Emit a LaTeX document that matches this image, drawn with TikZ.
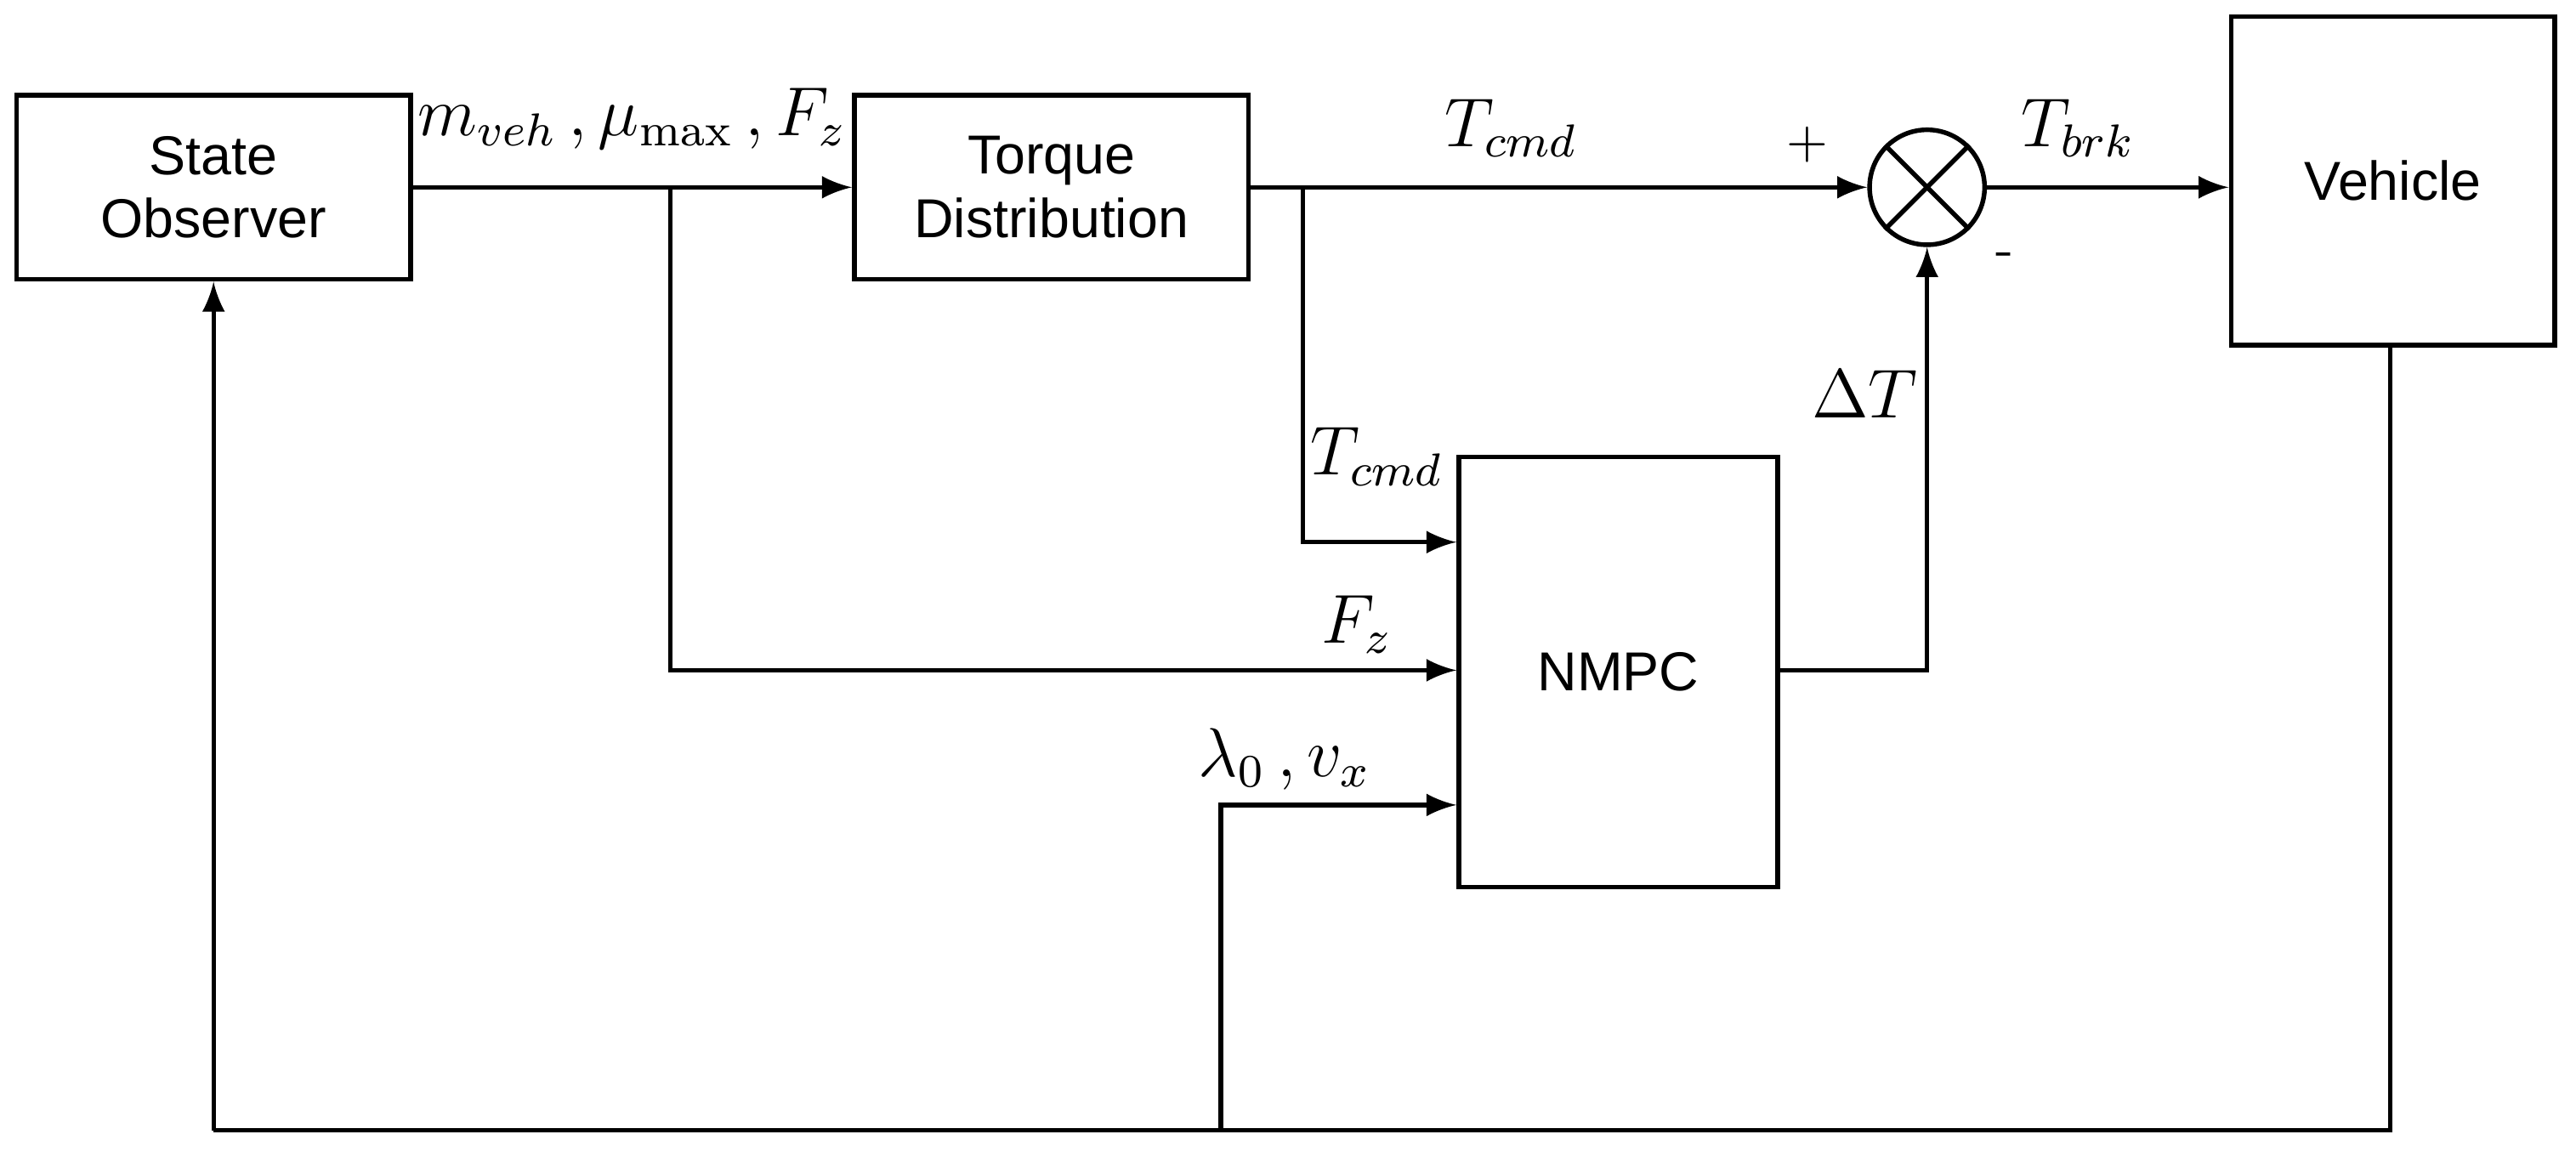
\documentclass[tikz,border=0pt]{standalone}
\usepackage{fontspec}
\setsansfont{Liberation Sans}
\usetikzlibrary{calc}
\tikzset{ blk/.style = { rectangle
                       , draw
                       , thick
                       , inner sep    = 1pt
                       , align        = center
                       , font         = \sffamily\fontsize{9.5}{11}\selectfont
                       },
          sig/.style = { thick
                       , -latex
                       },
          lbl/.style = { font = \fontsize{12}{14}\selectfont
                       , inner sep = 1pt
                       }
        }

\begin{document}
\begin{tikzpicture}
    \useasboundingbox (0,0) rectangle (15.68,-7.04);
    % blocks
    \node[blk, minimum width=2.40cm, minimum height=1.12cm] (obs) at (1.30,-1.14) {State\\Observer};
    \node[blk, minimum width=2.40cm, minimum height=1.12cm] (td)  at (6.40,-1.14) {Torque\\Distribution};
    \node[blk, minimum width=1.97cm, minimum height=2.00cm] (veh) at (14.565,-1.10) {Vehicle};
    \node[blk, minimum width=1.94cm, minimum height=2.62cm] (mpc) at (9.85,-4.09) {NMPC};
    \node[circle, draw, thick, minimum size=0.70cm, inner sep=0pt] (sum) at (11.73,-1.14) {};
    \draw[thick] (sum.north west) -- (sum.south east) (sum.north east) -- (sum.south west);
    % junctions
    \coordinate (j1) at (4.08,-1.14);
    \coordinate (j2) at (7.93,-1.14);
    \coordinate (j3) at (7.43,-6.88);
    \coordinate (vb) at (14.55,-6.88);
    \coordinate (ob) at (1.30,-6.88);
    % forward path
    \draw[sig] (obs) -- (td);
    \draw[sig] (td) -- (sum);
    \draw[sig] (sum) -- (veh.west |- sum);
    \draw[sig] (j1) |- ($(mpc.west)+(0,0.01)$);
    \draw[sig] (j2) |- (mpc.west |- 0,-3.30);
    \draw[sig] (mpc.east |- 0,-4.08) -| (sum);
    % feedback
    \draw[thick] (veh.south -| vb) -- (vb) -- (ob);
    \draw[sig] (ob) -- (obs);
    \draw[sig] (j3) |- (mpc.west |- 0,-4.90);
    % labels
    \node[lbl] (l1) at (3.85,-0.72) {$m_{veh}\,,\mu_{\max}\,,F_z$};
    \node[lbl] (l2) at (9.20,-0.78) {$T_{cmd}$};
    \node[font=\small] (l3) at (11.00,-0.88) {+};
    \node[lbl] (l4) at (12.65,-0.78) {$T_{brk}$};
    \node[font=\small] (l5) at (12.20,-1.58) {-};
    \node[lbl] (l6) at (11.35,-2.40) {$\Delta T$};
    \node[lbl] (l7) at (8.38,-2.78) {$T_{cmd}$};
    \node[lbl] (l8) at (8.26,-3.80) {$F_z$};
    \node[lbl] (l9) at (7.82,-4.62) {$\lambda_0\,,v_x$};
\end{tikzpicture}
\end{document}
